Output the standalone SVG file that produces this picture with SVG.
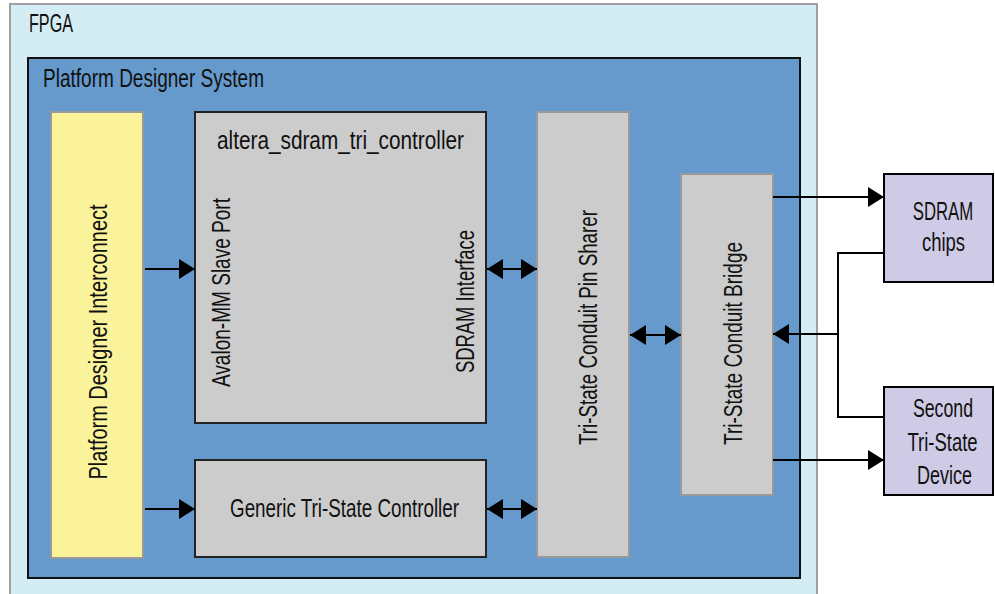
<svg xmlns="http://www.w3.org/2000/svg" width="995" height="594" viewBox="0 0 995 594">
<style>
text{font-family:"Liberation Sans",Arial,sans-serif;font-size:25px;fill:#111;}
.c{text-anchor:middle;}
.ln{stroke:#000;stroke-width:2;fill:none;}
.gray{fill:#cccccc;stroke:#999;stroke-width:2;}
.grayd{fill:#cccccc;stroke:#222;stroke-width:2;}
.ext{fill:#cfcbe6;stroke:#000;stroke-width:2;}
</style>
<defs>
<marker id="ah" viewBox="0 0 16 20" refX="16" refY="10" markerWidth="16" markerHeight="20" markerUnits="userSpaceOnUse" orient="auto-start-reverse">
<path d="M0,0 L16,10 L0,20 Z" fill="#000"/>
</marker>
</defs>
<rect width="995" height="594" fill="#fff"/>
<g id="fpga">
<rect x="10" y="4" width="807" height="600" fill="#d4edf4" stroke="#a0a0a0" stroke-width="2"/>
<text x="29" y="32" textLength="44" lengthAdjust="spacingAndGlyphs">FPGA</text>
</g>
<g id="pds">
<rect x="28" y="58" width="772" height="520" fill="#6699cc" stroke="#111" stroke-width="2"/>
<text x="43" y="87" textLength="221" lengthAdjust="spacingAndGlyphs">Platform Designer System</text>
</g>
<g id="interconnect">
<rect x="51" y="112" width="92" height="446" fill="#faf39c" stroke="#999" stroke-width="2"/>
<text class="c" transform="translate(107,342) rotate(-90)" textLength="275" lengthAdjust="spacingAndGlyphs">Platform Designer Interconnect</text>
</g>
<g id="sdram_ctrl">
<rect class="grayd" x="195" y="112" width="291" height="311"/>
<text class="c" x="340.5" y="149" textLength="247" lengthAdjust="spacingAndGlyphs">altera_sdram_tri_controller</text>
<text class="c" transform="translate(230,292.5) rotate(-90)" textLength="189" lengthAdjust="spacingAndGlyphs">Avalon-MM Slave Port</text>
<text class="c" transform="translate(474,301.5) rotate(-90)" textLength="143" lengthAdjust="spacingAndGlyphs">SDRAM Interface</text>
</g>
<g id="generic_ctrl">
<rect class="grayd" x="195" y="460" width="291" height="97"/>
<text class="c" x="344.5" y="517" textLength="229" lengthAdjust="spacingAndGlyphs">Generic Tri-State Controller</text>
</g>
<g id="pin_sharer">
<rect class="gray" x="537" y="112" width="92" height="445"/>
<text class="c" transform="translate(597,327.5) rotate(-90)" textLength="235" lengthAdjust="spacingAndGlyphs">Tri-State Conduit Pin Sharer</text>
</g>
<g id="bridge">
<rect class="gray" x="681" y="174" width="92" height="321"/>
<text class="c" transform="translate(742,343.5) rotate(-90)" textLength="203" lengthAdjust="spacingAndGlyphs">Tri-State Conduit Bridge</text>
</g>
<g id="sdram_chips">
<rect class="ext" x="884" y="174" width="109" height="108"/>
<text class="c" transform="translate(943,220) scale(0.67,1)">SDRAM</text>
<text class="c" transform="translate(943.5,251) scale(0.74,1)">chips</text>
</g>
<g id="second_device">
<rect class="ext" x="884" y="387" width="109" height="108"/>
<text class="c" transform="translate(943,417) scale(0.71,1)">Second</text>
<text class="c" transform="translate(942.5,451) scale(0.74,1)">Tri-State</text>
<text class="c" transform="translate(944.5,484) scale(0.72,1)">Device</text>
</g>
<g id="connectors">
<line class="ln" x1="145" y1="269" x2="195" y2="269" marker-end="url(#ah)"/>
<line class="ln" x1="145" y1="509" x2="195" y2="509" marker-end="url(#ah)"/>
<line class="ln" x1="487" y1="269" x2="537" y2="269" marker-start="url(#ah)" marker-end="url(#ah)"/>
<line class="ln" x1="487" y1="509" x2="537" y2="509" marker-start="url(#ah)" marker-end="url(#ah)"/>
<line class="ln" x1="630" y1="335" x2="681" y2="335" marker-start="url(#ah)" marker-end="url(#ah)"/>
<line class="ln" x1="773" y1="197" x2="884" y2="197" marker-end="url(#ah)"/>
<line class="ln" x1="773" y1="460" x2="884" y2="460" marker-end="url(#ah)"/>
<polyline class="ln" points="884,253 838,253 838,417 884,417"/>
<line class="ln" x1="838" y1="334" x2="773" y2="334" marker-end="url(#ah)"/>
</g>
</svg>
